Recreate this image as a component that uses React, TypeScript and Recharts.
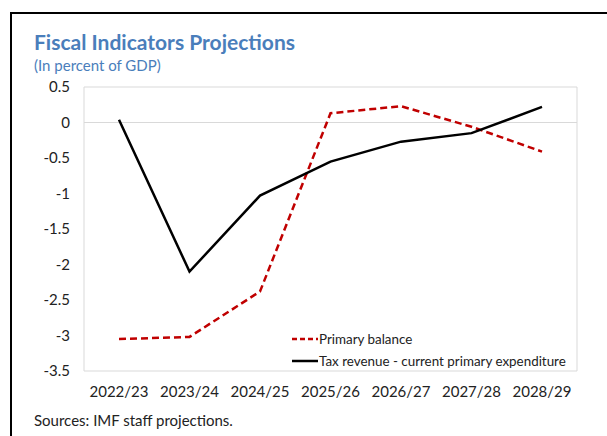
import { LineChart, Line, XAxis, YAxis, CartesianGrid, ReferenceLine } from 'recharts';

const years = ['2022/23', '2023/24', '2024/25', '2025/26', '2026/27', '2027/28', '2028/29'];
const primaryBalance = [-3.05, -3.02, -2.38, 0.13, 0.23, -0.06, -0.41];
const taxMinusExpenditure = [0.04, -2.1, -1.03, -0.55, -0.27, -0.15, 0.22];
const yTicks = [0.5, 0, -0.5, -1, -1.5, -2, -2.5, -3, -3.5];

const data = years.map((year, i) => ({
  year,
  primary: primaryBalance[i],
  tax: taxMinusExpenditure[i],
}));

const FONT = 'Lato, "Open Sans", sans-serif';
const GRID = '#d9d9d9';

function LegendBox() {
  const items = [
    { label: 'Primary balance', color: '#c00000', dash: '5 3' },
    { label: 'Tax revenue - current primary expenditure', color: '#000', dash: undefined },
  ];
  return (
    <div style={{ fontFamily: FONT, fontSize: 13.4, color: '#222' }}>
      {items.map((it) => (
        <div key={it.label} style={{ display: 'flex', alignItems: 'center', height: 22 }}>
          <svg width={26} height={4} style={{ marginRight: 1 }}>
            <line x1={0} y1={2} x2={26} y2={2} stroke={it.color} strokeWidth={2.5} strokeDasharray={it.dash} />
          </svg>
          <span>{it.label}</span>
        </div>
      ))}
    </div>
  );
}

export default function App() {
  return (
    <div style={{ position: 'absolute', left: 0, top: 0, width: 607, height: 436, background: '#fff', overflow: 'hidden' }}>
      <div style={{ position: 'absolute', left: 10, top: 12, width: 620, height: 440, borderTop: '2px solid #000', borderLeft: '2px solid #000' }} />
      <div style={{ position: 'absolute', left: 34, top: 29, fontFamily: FONT, fontWeight: 700, fontSize: 21, color: '#4a7ebb' }}>
        Fiscal Indicators Projections
      </div>
      <div style={{ position: 'absolute', left: 34, top: 56, fontFamily: FONT, fontSize: 15, color: '#4a7ebb' }}>
        (In percent of GDP)
      </div>
      <div style={{ position: 'absolute', left: 34, top: 411, fontFamily: FONT, fontSize: 15, color: '#222' }}>
        Sources: IMF staff projections.
      </div>
      <div style={{ position: 'absolute', left: 0, top: 0 }}>
        <LineChart width={607} height={436} data={data} margin={{ top: 87, right: 30, bottom: 35, left: 24 }}>
          <CartesianGrid
            stroke={GRID}
            strokeWidth={1}
            horizontalCoordinatesGenerator={({ offset }: any) => [offset.top, offset.top + offset.height]}
            verticalCoordinatesGenerator={({ offset }: any) => [offset.left, offset.left + offset.width]}
          />
          <ReferenceLine y={0} stroke={GRID} strokeWidth={1} />
          <XAxis
            dataKey="year"
            padding={{ left: 35, right: 35 }}
            axisLine={false}
            tickLine={false}
            tickMargin={9}
            height={30}
            interval={0}
            tick={{ fontFamily: FONT, fontSize: 15, fill: '#222' }}
          />
          <YAxis
            domain={[-3.5, 0.5]}
            ticks={yTicks}
            axisLine={false}
            tickLine={false}
            tickMargin={8}
            width={60}
            interval={0}
            tick={{ fontFamily: FONT, fontSize: 15, fill: '#222' }}
          />
          <Line
            dataKey="primary"
            stroke="#c00000"
            strokeWidth={2.5}
            strokeDasharray="7 4"
            dot={false}
            isAnimationActive={false}
          />
          <Line dataKey="tax" stroke="#000" strokeWidth={2.5} dot={false} isAnimationActive={false} />
        </LineChart>
      </div>
      <div style={{ position: 'absolute', left: 292, top: 328 }}>
        <LegendBox />
      </div>
    </div>
  );
}
